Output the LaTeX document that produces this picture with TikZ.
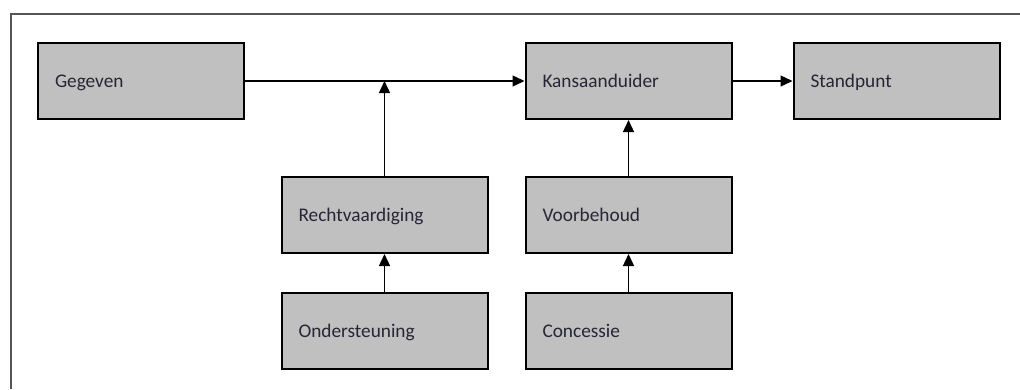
\documentclass[tikz,border=0pt]{standalone}
\usepackage{fontspec}
\setmainfont{Carlito}
\usetikzlibrary{arrows.meta}
\definecolor{boxfill}{HTML}{C0C0C0}
\definecolor{txt}{HTML}{262636}
\definecolor{framec}{HTML}{555555}
\tikzset{
  stepbox/.style={draw=black, line width=2pt, fill=boxfill, rectangle,
    minimum width=206pt, minimum height=76pt, inner xsep=17pt, inner ysep=0pt,
    text width=172pt, align=left, text=txt, text height=13pt, text depth=0pt,
    font=\fontsize{19.3}{23}\selectfont},
  arr/.style={line width=1.3pt, draw=black, -{Triangle[length=12pt,width=11pt]}},
}
\begin{document}
\begin{tikzpicture}[x=1pt,y=-1pt]
\useasboundingbox (0,0) rectangle (1020,389);
\draw[framec, line width=1.4pt] (11,389) -- (11,14) -- (1020,14);
\node[stepbox] (geg) at (141,81) {Gegeven};
\node[stepbox] (kans) at (628.5,81) {Kansaanduider};
\node[stepbox] (stand) at (896.5,81) {Standpunt};
\node[stepbox] (rech) at (384.5,215) {Rechtvaardiging};
\node[stepbox] (ond) at (384.5,331) {Ondersteuning};
\node[stepbox] (voor) at (628.5,215) {Voorbehoud};
\node[stepbox] (conc) at (628.5,331) {Concessie};
\coordinate (j) at (rech.north |- geg.east);
\draw[arr] (geg.east) -- (kans.west);
\draw[arr] (rech.north) -- (j);
\draw[arr] (ond.north) -- (rech.south);
\draw[arr] (voor.north) -- (kans.south);
\draw[arr] (conc.north) -- (voor.south);
\draw[arr] (kans.east) -- (stand.west);
\end{tikzpicture}
\end{document}
